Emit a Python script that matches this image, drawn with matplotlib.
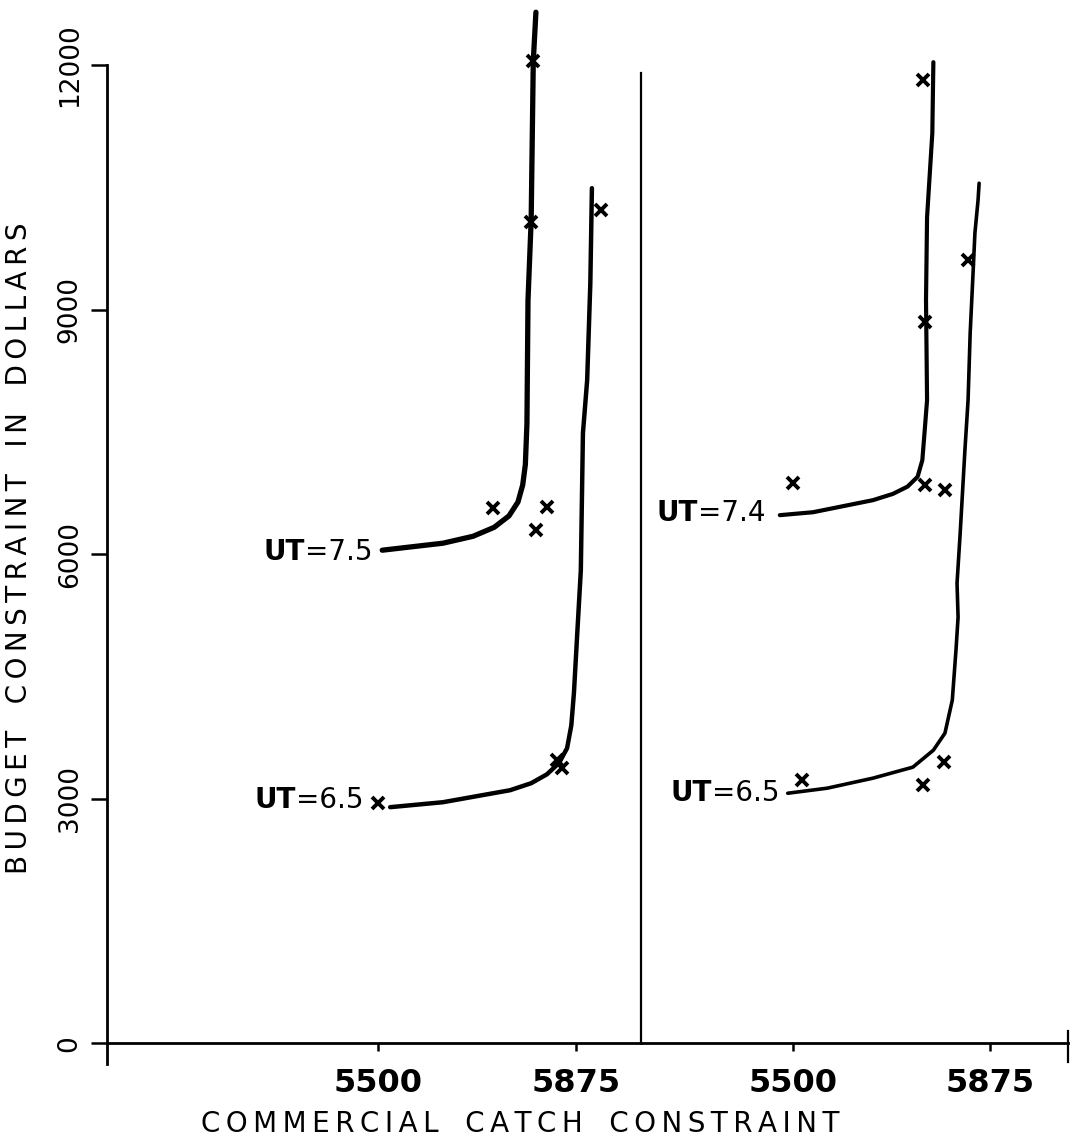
import matplotlib
matplotlib.use('Agg')
import matplotlib.pyplot as plt

# values (budget $ vs commercial catch)
# left panel
ut75_x = [5508, 5623, 5680, 5720, 5748, 5765, 5774, 5779, 5782, 5784, 5790, 5794, 5799]
ut75_y = [6049, 6135, 6220, 6330, 6470, 6640, 6850, 7100, 7600, 9117, 10098, 12049, 12650]
ut75_mx = [5794, 5790, 5718, 5820, 5799]
ut75_my = [12049, 10074, 6564, 6577, 6294]

ut65a_x = [5523, 5623, 5750, 5790, 5820, 5843, 5858, 5866, 5871, 5877, 5884, 5888, 5896, 5902, 5905]
ut65a_y = [2896, 2957, 3104, 3190, 3300, 3440, 3620, 3900, 4300, 5000, 5800, 7485, 8135, 9325, 10491]
ut65a_mx = [5500, 5839, 5848, 5922]
ut65a_my = [2945, 3472, 3374, 10221]

# right panel
ut74_x = [5475, 5538, 5652, 5690, 5718, 5737, 5746, 5751, 5755, 5753, 5755, 5765, 5767]
ut74_y = [6479, 6515, 6663, 6740, 6830, 6950, 7153, 7558, 7890, 9117, 10135, 11166, 12037]
ut74_mx = [5747, 5751, 5500, 5751, 5789]
ut74_my = [11816, 8847, 6871, 6847, 6785]

ut65b_x = [5490, 5565, 5652, 5728, 5767, 5789, 5803, 5810, 5814, 5812, 5818, 5827, 5833, 5837, 5843, 5846, 5852, 5854]
ut65b_y = [3067, 3129, 3252, 3387, 3595, 3804, 4209, 4822, 5227, 5644, 6258, 7276, 7890, 8712, 9521, 9939, 10344, 10552]
ut65b_mx = [5517, 5747, 5787, 5833]
ut65b_my = [3227, 3166, 3448, 9607]

yticks = [0, 3000, 6000, 9000, 12000]
xticks = [5500, 5875]


def spaced(s):
    # plotter lettering is widely spaced
    return '   '.join('\u2009'.join(w) for w in s.split(' '))


def ut_label(ax, x, y, num):
    t = ax.text(x, y, '=' + num, ha='right', va='center', fontsize=20)
    ax.annotate('UT', xy=(0, 0), xycoords=t, ha='right', va='bottom',
                fontsize=20, fontweight='bold')


fig = plt.figure(figsize=(10.7, 11.42), dpi=100)
ax1 = fig.add_axes([0.1, 0.0651, 0.4991, 0.9349])
ax2 = fig.add_axes([0.5991, 0.0651, 0.399, 0.9349])

ax1.set_xlim(4987, 5998)
ax2.set_xlim(5211, 6023)
for ax in (ax1, ax2):
    ax.set_ylim(-300, 12800)
    ax.set_facecolor('none')
    ax.spines['top'].set_visible(False)
    ax.spines['bottom'].set_position(('data', 0))
    ax.spines['bottom'].set_linewidth(2)
    ax.set_xticks(xticks)
    ax.set_xticklabels([str(v) for v in xticks], fontsize=23, fontweight='bold')
    ax.tick_params(axis='x', direction='out', length=6, width=1.8, pad=12)

ax1.spines['right'].set_visible(False)
ax1.spines['left'].set_linewidth(2)
ax1.spines['left'].set_bounds(-260, 12000)
ax1.set_yticks(yticks)
ax1.set_yticklabels([str(v) for v in yticks], fontsize=19, rotation=90, va='center')
ax1.tick_params(axis='y', direction='out', length=11.5, width=1.8, pad=6)

ax2.spines['left'].set_linewidth(1.6)
ax2.spines['left'].set_bounds(0, 11900)
ax2.spines['right'].set_linewidth(1.6)
ax2.spines['right'].set_bounds(-230, 150)
ax2.set_yticks([])

kw = dict(color='black', solid_capstyle='round', solid_joinstyle='round')
mk = dict(ls='none', marker='x', ms=9, mew=2.8, color='black')

ax1.plot(ut75_x, ut75_y, lw=3.8, **kw)
ax1.plot(ut75_mx, ut75_my, **mk)
ax1.plot(ut65a_x, ut65a_y, lw=3.2, **kw)
ax1.plot(ut65a_mx, ut65a_my, **mk)

ax2.plot(ut74_x, ut74_y, lw=3.0, **kw)
ax2.plot(ut74_mx, ut74_my, **mk)
ax2.plot(ut65b_x, ut65b_y, lw=2.6, **kw)
ax2.plot(ut65b_mx, ut65b_my, **mk)

ut_label(ax1, 5489, 6025, '7.5')
ut_label(ax1, 5472, 2982, '6.5')
ut_label(ax2, 5447, 6503, '7.4')
ut_label(ax2, 5475, 3067, '6.5')

fig.text(19 / 1070, 1 - 548 / 1142, spaced('BUDGET CONSTRAINT IN DOLLARS'),
         rotation=90, ha='center', va='center', fontsize=20)
fig.text(520 / 1070, 1 - 1124 / 1142, spaced('COMMERCIAL CATCH CONSTRAINT'),
         ha='center', va='center', fontsize=20)

fig.savefig('out.png', dpi=100)
